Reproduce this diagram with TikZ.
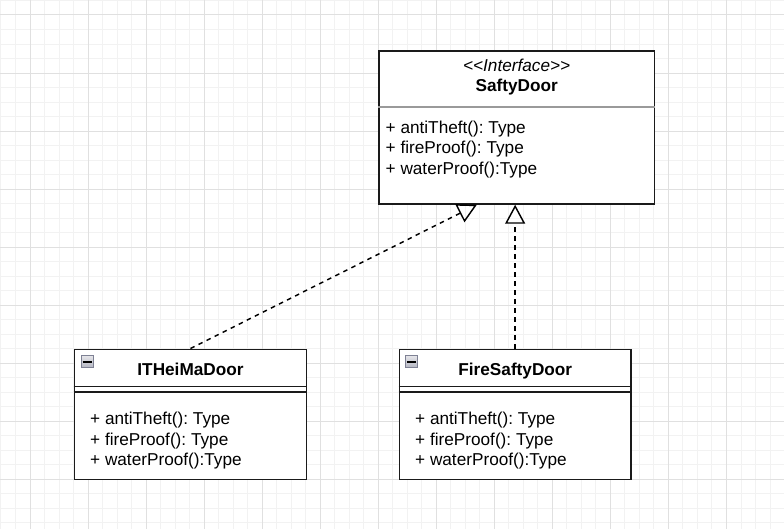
\documentclass[tikz,border=0pt]{standalone}
\usepackage{fontspec}
\setmainfont{Liberation Sans}
\usetikzlibrary{arrows.meta,calc}
\frenchspacing
\definecolor{gridminor}{HTML}{F2F2F2}
\definecolor{gridmajor}{HTML}{E0E0E0}
\definecolor{sepgray}{HTML}{9A9A9A}
\definecolor{iconborder}{HTML}{7E8194}
\definecolor{iconfill}{HTML}{B4B6C2}
\definecolor{icontop}{HTML}{E6E6EA}
\definecolor{boxline}{HTML}{1A1A1A}
\tikzset{
  umlbox/.style={draw=boxline, line width=1.5pt, fill=white, rectangle, inner sep=0pt},
  mtext/.style={anchor=base west, inner sep=0pt, font=\fontsize{17.2}{20}\selectfont\frenchspacing},
  ctext/.style={anchor=base, inner sep=0pt, font=\fontsize{17.2}{20}\selectfont},
  sepline/.style={draw=boxline, line width=1.5pt},
  graysep/.style={draw=sepgray, line width=1.2pt},
  impl/.style={draw=black, line width=1.45pt, dash pattern=on 4.5pt off 4.5pt,
    -{Triangle[open, length=19pt, width=20pt, line width=1.45pt]}},
  iconbox/.style={draw=iconborder, line width=1.2pt, top color=icontop, bottom color=iconfill, rectangle, inner sep=0pt, minimum width=12pt, minimum height=12pt},
  minorgrid/.style={draw=gridminor, line width=1pt},
  majorgrid/.style={draw=gridmajor, line width=1pt}
}
\begin{document}
\begin{tikzpicture}[x=1pt,y=-1pt]
\useasboundingbox (0,0) rectangle (784,529);
\begin{scope}
\clip (0,0) rectangle (784,529);
\fill[white] (0,0) rectangle (784,529);
\foreach \i in {-3,...,52} {
  \draw[minorgrid] ({30+\i*14.51},0) -- ({30+\i*14.51},529);
}
\foreach \i in {-2,...,36} {
  \draw[minorgrid] (0,{15+\i*14.51}) -- (784,{15+\i*14.51});
}
\foreach \i in {-1,...,13} {
  \draw[majorgrid] ({30+\i*58.04},0) -- ({30+\i*58.04},529);
}
\foreach \i in {-1,...,9} {
  \draw[majorgrid] (0,{15+\i*58.04}) -- (784,{15+\i*58.04});
}
\end{scope}

% interface
\node[umlbox, minimum width=275.3pt, minimum height=153pt] (safty) at (516.65,127.5) {};
\draw[graysep] ($(safty.north west)+(0,56.7)$) -- ($(safty.north east)+(0,56.7)$);
\node[ctext, font=\fontsize{17.2}{20}\selectfont\itshape] (sst) at (516.65,71.7) {<{}<Interface>{}>};
\node[ctext, font=\fontsize{17.2}{20}\selectfont\bfseries] (sname) at (516.65,91.7) {SaftyDoor};
\node[mtext] (sm1) at (385.5,133.3) {+ antiTheft(): Type};
\node[mtext] (sm2) at (385.5,153.8) {+ fireProof(): Type};
\node[mtext] (sm3) at (385.5,174.3) {+ waterProof():Type};

% ITHeiMaDoor
\node[umlbox, minimum width=232.4pt, minimum height=130pt] (ith) at (190.5,414.3) {};
\draw[sepline] ($(ith.north west)+(0,37.7)$) -- ($(ith.north east)+(0,37.7)$);
\draw[sepline] ($(ith.north west)+(0,43.4)$) -- ($(ith.north east)+(0,43.4)$);
\node[iconbox] (ithicon) at (87.3,361.5) {};
\draw[black, line width=1.4pt] ($(ithicon.west)+(2,0.3)$) -- ($(ithicon.east)+(-2,0.3)$);
\node[ctext, font=\fontsize{17.2}{20}\selectfont\bfseries] (ithname) at (190.5,375) {ITHeiMaDoor};
\node[mtext] (im1) at (90,424.3) {+ antiTheft(): Type};
\node[mtext] (im2) at (90,445) {+ fireProof(): Type};
\node[mtext] (im3) at (90,465.7) {+ waterProof():Type};

% FireSaftyDoor
\node[umlbox, minimum width=231.7pt, minimum height=130pt] (fire) at (515.15,414.3) {};
\draw[sepline] ($(fire.north west)+(0,37.7)$) -- ($(fire.north east)+(0,37.7)$);
\draw[sepline] ($(fire.north west)+(0,43.4)$) -- ($(fire.north east)+(0,43.4)$);
\node[iconbox] (fireicon) at (411.5,361.5) {};
\draw[black, line width=1.4pt] ($(fireicon.west)+(2,0.3)$) -- ($(fireicon.east)+(-2,0.3)$);
\node[ctext, font=\fontsize{17.2}{20}\selectfont\bfseries] (firename) at (515.3,375) {FireSaftyDoor};
\node[mtext] (fm1) at (415,424.3) {+ antiTheft(): Type};
\node[mtext] (fm2) at (415,445) {+ fireProof(): Type};
\node[mtext] (fm3) at (415,465.7) {+ waterProof():Type};

% realizations
\coordinate (tipL) at ($(safty.south west)+(98.6,0)$);
\draw[impl] (ith.north) -- (tipL);
\draw[impl] (fire.north) -- (fire.north |- safty.south);
\end{tikzpicture}
\end{document}
